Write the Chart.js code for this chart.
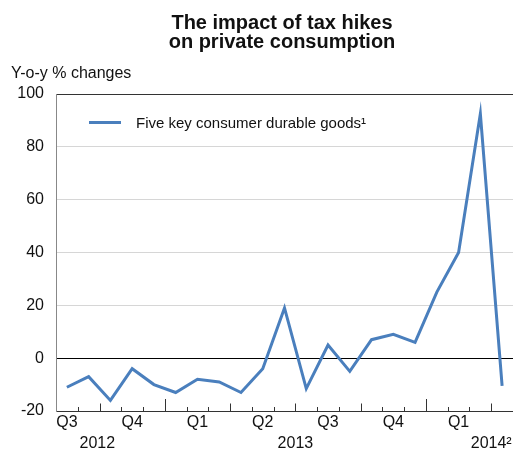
<!DOCTYPE html>
<html><head><meta charset="utf-8">
<script src="https://cdn.jsdelivr.net/npm/chart.js@4"></script>
<style>html,body{margin:0;padding:0;background:#fff}#wrap{width:513px;height:450px;position:relative}</style>
</head><body><div id="wrap"><canvas id="c" width="513" height="450"></canvas></div>
<script>
const months = ['Aug 2012','Sep 2012','Oct 2012','Nov 2012','Dec 2012',
  'Jan 2013','Feb 2013','Mar 2013','Apr 2013','May 2013','Jun 2013','Jul 2013','Aug 2013','Sep 2013','Oct 2013','Nov 2013','Dec 2013',
  'Jan 2014','Feb 2014','Mar 2014','Apr 2014'];
const durables = [-11,-7,-16,-4,-10,-13,-8,-9,-13,-4,19,-11.5,5,-5,7,9,6,25,40,92.5,-10.5];
const quarterLabels = {'Aug 2012':'Q3','Nov 2012':'Q4','Feb 2013':'Q1','May 2013':'Q2','Aug 2013':'Q3','Nov 2013':'Q4','Feb 2014':'Q1'};
const yearLabels = ['2012','2013','2014²'];
const yTicks = [-20,0,20,40,60,80,100];
const seriesName = 'Five key consumer durable goods¹';
const titleLines = ['The impact of tax hikes','on private consumption'];
const yTitle = 'Y-o-y % changes';

const FONT = '"Liberation Sans", Arial, sans-serif';
const BLUE = '#4a7fbd';

const deco = {
  id: 'deco',
  afterDraw(chart) {
    const ctx = chart.ctx, x = chart.scales.x, ca = chart.chartArea;
    const sp = x.getPixelForValue(1) - x.getPixelForValue(0);
    ctx.save();
    // month / quarter / year tick marks pointing up
    ctx.strokeStyle = '#333'; ctx.lineWidth = 1;
    for (let i = 0; i < months.length - 1; i++) {
      const next = months[i + 1].slice(0, 3);
      let len = 4;
      if (next === 'Jan') len = 12;
      else if (['Apr','Jul','Oct'].includes(next)) len = 7.5;
      const px = Math.round(x.getPixelForValue(i) + sp / 2) + 0.5;
      ctx.beginPath(); ctx.moveTo(px, ca.bottom); ctx.lineTo(px, ca.bottom - len); ctx.stroke();
    }
    // year labels
    ctx.fillStyle = '#111'; ctx.font = '16px ' + FONT; ctx.textAlign = 'center'; ctx.textBaseline = 'alphabetic';
    const yy = 448;
    ctx.fillText(yearLabels[0], x.getPixelForValue(1) + 0.4 * sp, yy);
    ctx.fillText(yearLabels[1], x.getPixelForValue(10) + 0.5 * sp, yy);
    ctx.fillText(yearLabels[2], x.getPixelForValue(19) + 0.5 * sp, yy);
    // title
    ctx.font = 'bold 20px ' + FONT;
    ctx.fillText(titleLines[0], 282, 29);
    ctx.fillText(titleLines[1], 282, 48);
    // y title
    ctx.font = '16px ' + FONT; ctx.textAlign = 'left';
    ctx.fillText(yTitle, 11, 78);
    // legend
    ctx.strokeStyle = BLUE; ctx.lineWidth = 3;
    ctx.beginPath(); ctx.moveTo(89, 122.5); ctx.lineTo(121, 122.5); ctx.stroke();
    ctx.font = '15px ' + FONT; ctx.fillStyle = '#111';
    ctx.fillText(seriesName, 136, 128);
    ctx.restore();
  }
};

new Chart(document.getElementById('c'), {
  type: 'line',
  data: { labels: months, datasets: [{ label: seriesName, data: durables, borderColor: BLUE, borderWidth: 3, pointRadius: 0, tension: 0, fill: false, borderJoinStyle: 'miter' }] },
  options: {
    responsive: false, animation: false, devicePixelRatio: 1,
    layout: { padding: { top: 94, left: 0, right: 0, bottom: 0 } },
    plugins: { legend: { display: false }, title: { display: false }, tooltip: { enabled: false } },
    scales: {
      x: {
        offset: true,
        grid: { display: false, drawTicks: false },
        border: { display: true, color: '#333', width: 1 },
        ticks: { autoSkip: false, maxRotation: 0, padding: 2, color: '#111', font: { family: FONT, size: 16 },
          callback: (v, i) => quarterLabels[months[i]] || '' },
        afterFit: s => { s.height = 39; }
      },
      y: {
        min: -20, max: 100,
        afterBuildTicks: s => { s.ticks = yTicks.map(v => ({ value: v })); },
        grid: { drawTicks: false, lineWidth: 1,
          color: c => c.tick.value === 0 ? '#000' : (c.tick.value === 100 || c.tick.value === -20 ? '#333' : '#d6d6d6') },
        border: { display: true, color: '#888', width: 1 },
        ticks: { padding: 12, color: '#111', font: { family: FONT, size: 16 } },
        afterFit: s => { s.width = 56; }
      }
    }
  },
  plugins: [deco]
});
</script></body></html>
